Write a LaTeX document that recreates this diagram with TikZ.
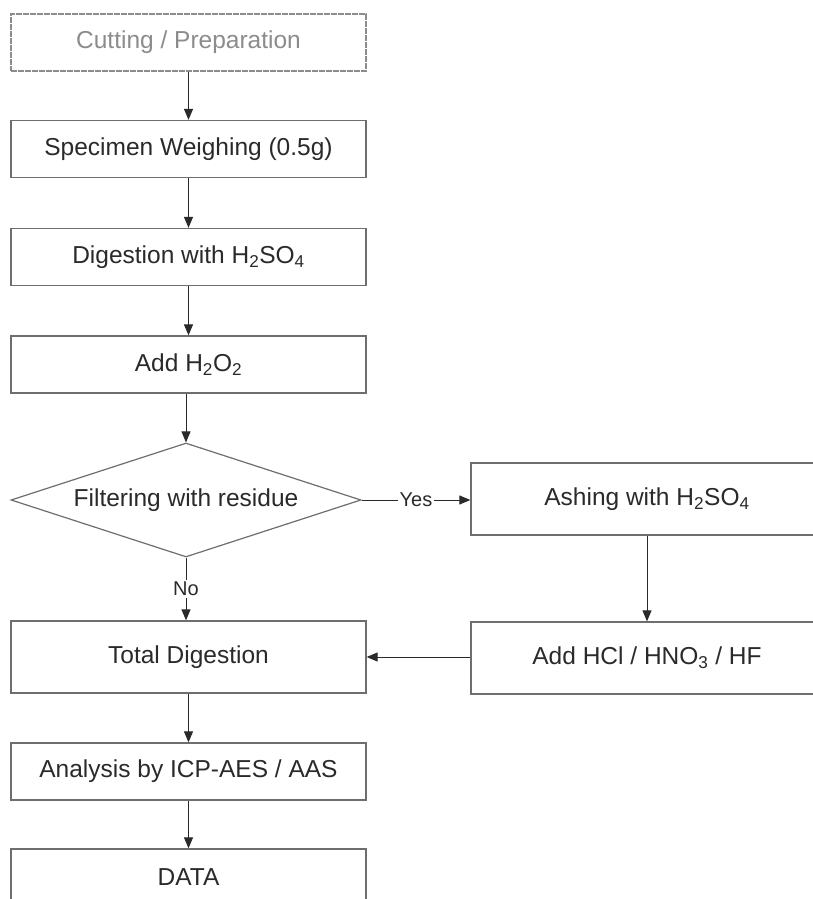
\documentclass[tikz,border=0pt]{standalone}
\usepackage{fontspec}
\setmainfont{Liberation Sans}
\usetikzlibrary{shapes.geometric,arrows.meta}
\definecolor{boxgray}{HTML}{6E6E6E}
\definecolor{txtgray}{HTML}{2A2A2A}
\definecolor{lightgray}{HTML}{8C8C8C}
\begin{document}
\begin{tikzpicture}[x=1pt,y=-1pt,
  box/.style={draw=boxgray,line width=1.3pt,minimum width=355pt,minimum height=57pt,inner sep=0pt,text=txtgray,font=\fontsize{24.5}{29}\selectfont},
  tallbox/.style={box,minimum height=72pt},
  sidebox/.style={box,minimum width=352pt,minimum height=72pt},
  decision/.style={diamond,aspect=3.07,draw=boxgray,line width=1.2pt,minimum width=350pt,minimum height=114pt,inner sep=0pt,text=txtgray,font=\fontsize{24.5}{29}\selectfont},
  arr/.style={draw=txtgray,line width=1pt,-{Triangle[length=11pt,width=9pt]}},
  lbl/.style={fill=white,inner sep=2pt,text=txtgray,font=\fontsize{20}{24}\selectfont}
]
\useasboundingbox (0,0) rectangle (813,899);
\fill[white] (0,0) rectangle (813,899);
\clip (0,0) rectangle (813,899);
\node[box,draw=lightgray,dash pattern=on 6pt off 1pt,text=lightgray] (cut) at (188.5,42.5) {Cutting / Preparation};
\node[box] (weigh) at (188.5,149) {Specimen Weighing (0.5g)};
\node[box] (dig) at (188.5,257) {Digestion with H\textsubscript{2}SO\textsubscript{4}};
\node[box] (hoo) at (188.5,364.5) {Add H\textsubscript{2}O\textsubscript{2}};
\node[decision] (filt) at (186,500) {Filtering with residue};
\node[sidebox] (ash) at (647,499) {Ashing with H\textsubscript{2}SO\textsubscript{4}};
\node[tallbox] (total) at (188.5,657) {Total Digestion};
\node[sidebox] (hcl) at (647,658) {Add HCl / HNO\textsubscript{3} / HF};
\node[box] (ana) at (188.5,771.5) {Analysis by ICP-AES / AAS};
\node[box] (data) at (188.5,877.5) {DATA};
\draw[arr] (cut) -- (weigh);
\draw[arr] (weigh) -- (dig);
\draw[arr] (dig) -- (hoo);
\draw[arr] (hoo.south -| filt.north) -- (filt.north);
\draw[arr] (filt.east) -- node[lbl]{Yes} (ash.west |- filt.east);
\draw[arr] (filt.south) -- node[lbl]{No} (total.north -| filt.south);
\draw[arr] (ash) -- (hcl);
\draw[arr] (hcl.west |- total.east) -- (total.east);
\draw[arr] (total) -- (ana);
\draw[arr] (ana) -- (data);
\end{tikzpicture}
\end{document}
